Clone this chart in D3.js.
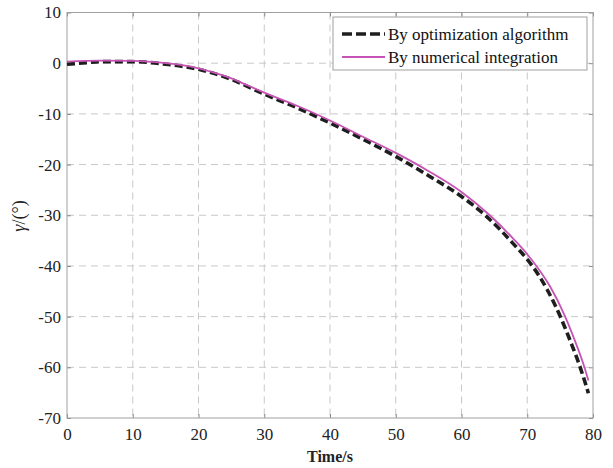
<!DOCTYPE html>
<html><head><meta charset="utf-8">
<script src="https://cdn.jsdelivr.net/npm/d3@7/dist/d3.min.js"></script>
<style>
html,body{margin:0;padding:0;background:#fff;}
</style>
</head><body>
<svg id="c" width="613" height="468"></svg>
<script>
const xTicks = [0,10,20,30,40,50,60,70,80];
const yTicks = [10,0,-10,-20,-30,-40,-50,-60,-70];
const optTime = [0,3,5,10,15,20,25,30,35,40,45,50,55,60,63.6,66,68,70,71,73,75.2,76.7,78,79.3];
const optGamma = [-0.2,0.1,0.3,0.3,-0.2,-1.2,-3.2,-6.1,-8.8,-11.8,-15.0,-18.4,-22.2,-26.3,-30,-33.0,-35.8,-38.7,-40.4,-44.6,-50.5,-55.3,-59.8,-65.1];
const numTime = [0,5,10,15,17.5,20,22.5,25,27.5,30,35,40,45,50,55,60,64.3,68,70,71.5,73.5,75.7,77.2,78.6,79.3];
const numGamma = [0.3,0.5,0.45,0.0,-0.4,-1.0,-1.9,-3.0,-4.4,-5.8,-8.4,-11.3,-14.5,-17.7,-21.3,-25.4,-30,-34.8,-37.7,-40.2,-44.1,-49.8,-54.6,-59.6,-62.6];
const legendLabels = ["By optimization algorithm","By numerical integration"];

const FONT = "'Liberation Serif', Tinos, 'Times New Roman', 'DejaVu Serif', serif";
const svg = d3.select("#c");
const L=67, R=593, T=12.5, B=418;
const x = d3.scaleLinear().domain([0,80]).range([L,R]);
const y = d3.scaleLinear().domain([-70,10]).range([B,T]);

// grid
const grid = svg.append("g");
grid.selectAll("line.v").data(xTicks.slice(1,-1)).enter().append("line")
  .attr("x1",d=>x(d)).attr("x2",d=>x(d)).attr("y1",T).attr("y2",B)
  .attr("stroke","#c8c8c8").attr("stroke-width",1).attr("stroke-dasharray","7,5");
grid.selectAll("line.h").data(yTicks.slice(1,-1)).enter().append("line")
  .attr("x1",L).attr("x2",R).attr("y1",d=>y(d)).attr("y2",d=>y(d))
  .attr("stroke","#c8c8c8").attr("stroke-width",1).attr("stroke-dasharray","7,5");

// axes with inward ticks
const fmt = d => String(d);
function styleAxis(g){
  g.attr("font-family", FONT);
  g.select(".domain").remove();
  g.selectAll(".tick line").attr("stroke","#888");
  g.selectAll("text").attr("fill","#222").style("font-family",FONT).style("font-size","17px");
}
svg.append("g").attr("transform",`translate(0,${B})`)
  .call(d3.axisBottom(x).tickValues(xTicks).tickSize(-4).tickPadding(7).tickFormat(fmt)).call(styleAxis)
  .selectAll("text").attr("dy","0.9em");
svg.append("g").attr("transform",`translate(0,${T})`)
  .call(d3.axisTop(x).tickValues(xTicks).tickSize(-4).tickFormat("")).call(styleAxis);
svg.append("g").attr("transform",`translate(${L},0)`)
  .call(d3.axisLeft(y).tickValues(yTicks).tickSize(-4).tickPadding(6).tickFormat(fmt)).call(styleAxis);
svg.append("g").attr("transform",`translate(${R},0)`)
  .call(d3.axisRight(y).tickValues(yTicks).tickSize(-4).tickFormat("")).call(styleAxis);
svg.append("rect").attr("x",L).attr("y",T).attr("width",R-L).attr("height",B-T)
  .attr("fill","none").attr("stroke","#a0a0a0").attr("stroke-width",1);

// lines
const line = d3.line().x(d=>x(d[0])).y(d=>y(d[1])).curve(d3.curveMonotoneX);
const optData = optTime.map((t,i)=>[t,optGamma[i]]);
const numData = numTime.map((t,i)=>[t,numGamma[i]]);
svg.append("path").datum(optData).attr("d",line).attr("fill","none")
  .attr("stroke","#1e1e1e").attr("stroke-width",3.6).attr("stroke-dasharray","8,4");
svg.append("path").datum(numData).attr("d",line).attr("fill","none")
  .attr("stroke","#c653b5").attr("stroke-width",1.8);

// legend
const lg = svg.append("g");
lg.append("rect").attr("x",333).attr("y",17).attr("width",254).attr("height",53)
  .attr("fill","#fff").attr("stroke","#a0a0a0").attr("stroke-width",1);
lg.append("line").attr("x1",342).attr("x2",385).attr("y1",34).attr("y2",34)
  .attr("stroke","#1e1e1e").attr("stroke-width",3.6).attr("stroke-dasharray","10,4");
lg.append("line").attr("x1",342).attr("x2",385).attr("y1",57).attr("y2",57)
  .attr("stroke","#c653b5").attr("stroke-width",1.8);
lg.selectAll("text").data(legendLabels).enter().append("text")
  .attr("x",388).attr("y",(d,i)=>34+i*23).attr("dy","0.33em")
  .style("font-family",FONT).style("font-size","17px").attr("fill","#111").text(d=>d);

// axis labels
svg.append("text").attr("x",(L+R)/2).attr("y",462).attr("text-anchor","middle")
  .style("font-family",FONT).style("font-size","16px").style("font-weight","bold").attr("fill","#222").text("Time/s");
const yl = svg.append("text").attr("transform","translate(25,216) rotate(-90)")
  .attr("text-anchor","middle").style("font-family",FONT).style("font-size","18px").attr("fill","#222");
yl.append("tspan").style("font-style","italic").text("γ");
yl.append("tspan").text("/(°)");
</script>
</body></html>
